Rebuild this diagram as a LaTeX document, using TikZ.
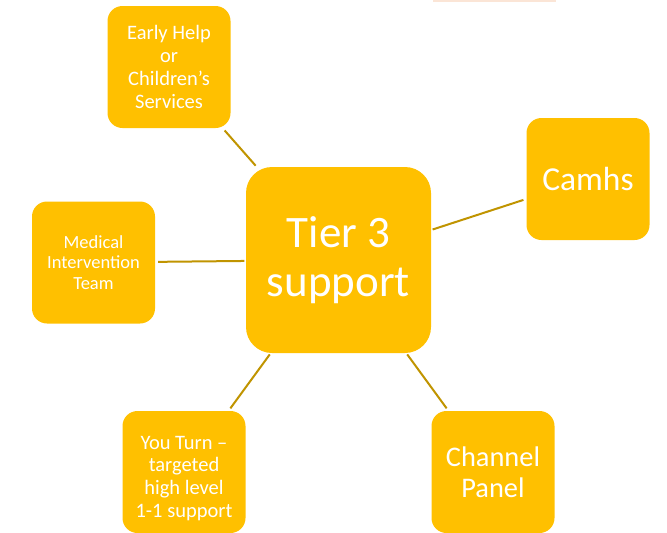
\documentclass[tikz,border=0pt]{standalone}
\usepackage{fontspec}
\setmainfont{Carlito}
\definecolor{tiergold}{HTML}{FFC000}
\definecolor{linkgold}{HTML}{C09400}
\definecolor{peach}{HTML}{FBE5D6}

\begin{document}
\begin{tikzpicture}[x=1pt,y=-1pt]
\tikzstyle{every node}+=[inner sep=0pt]
\tikzstyle{leaf}=[fill=tiergold, rounded corners=15pt, text=white, align=center, minimum width=123pt, minimum height=122pt]
\tikzstyle{hub}=[leaf, rounded corners=26pt, minimum width=185pt, minimum height=186pt]
\tikzstyle{link}=[draw=linkgold, line width=2pt, shorten <=1.5pt, shorten >=3pt]
\useasboundingbox (0,0) rectangle (667,533);
\fill [peach] (433,0) rectangle (556,1.5);
% centre
\node [hub, font=\fontsize{45}{49}\selectfont] (tier) at (338.5,260) {Tier 3\\support};
% around it
\node [leaf, font=\fontsize{20.5}{23}\selectfont] (early) at (169,67) {Early Help\\or\\Children’s\\Services};
\node [leaf, font=\fontsize{33.5}{40}\selectfont] (camhs) at (588,179) {Camhs};
\node [leaf, font=\fontsize{18.5}{20.5}\selectfont] (medical) at (93.5,262.5) {Medical\\Intervention\\Team};
\node [leaf, font=\fontsize{20.5}{22.8}\selectfont] (youturn) at (184,472) {\rule{0pt}{26pt}You Turn –\\targeted\\high level\\1-1 support};
\node [leaf, font=\fontsize{28.4}{31}\selectfont] (channel) at (493,472) {Channel\\Panel};
\draw [link] (tier) -- (early);
\draw [link] (tier) -- (camhs);
\draw [link] (tier) -- (medical);
\draw [link] (tier) -- (youturn);
\draw [link] (tier) -- (channel);
\end{tikzpicture}
\end{document}
